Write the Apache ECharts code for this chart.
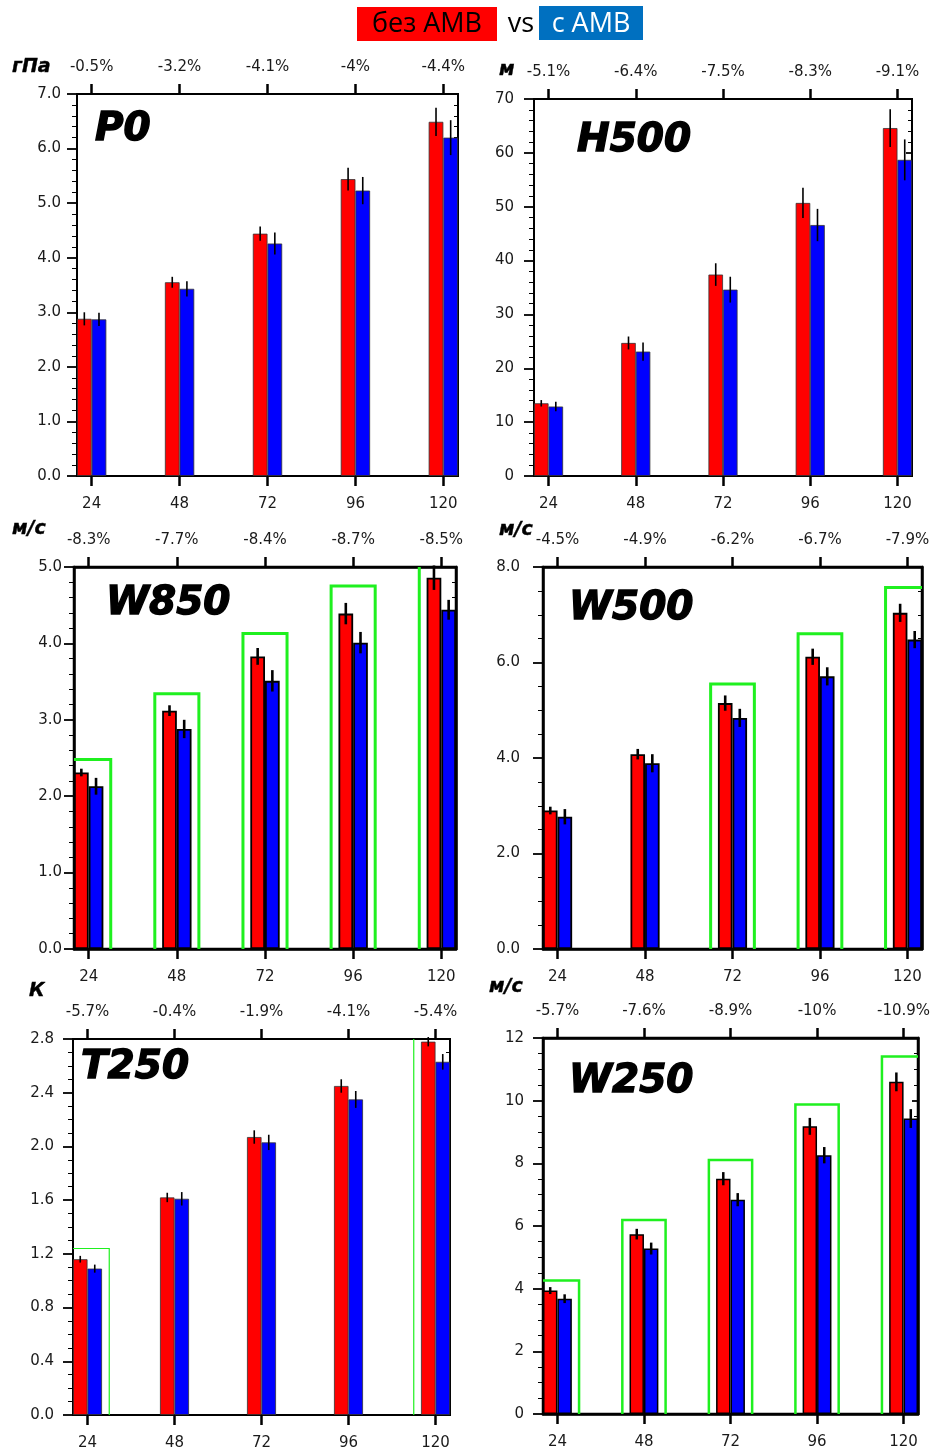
<!DOCTYPE html>
<html><head><meta charset="utf-8">
<script src="https://cdn.jsdelivr.net/npm/echarts@6/dist/echarts.min.js"></script>
<style>html,body{margin:0;padding:0;background:#fff}#c{width:936px;height:1452px}</style>
</head><body><div id="c"></div>
<script>
// ---------- DATA ----------
const categories = [24, 48, 72, 96, 120];

const p0Red = [2.88, 3.55, 4.44, 5.44, 6.49];
const p0RedErr = [0.12, 0.10, 0.13, 0.21, 0.26];
const p0Blue = [2.87, 3.43, 4.26, 5.23, 6.20];
const p0BlueErr = [0.12, 0.14, 0.20, 0.25, 0.32];
const p0Pct = ["-0.5%", "-3.2%", "-4.1%", "-4%", "-4.4%"];

const h500Red = [13.5, 24.7, 37.4, 50.7, 64.6];
const h500RedErr = [0.6, 1.2, 2.1, 2.8, 3.5];
const h500Blue = [12.9, 23.1, 34.6, 46.6, 58.7];
const h500BlueErr = [0.9, 1.7, 2.4, 3.0, 3.8];
const h500Pct = ["-5.1%", "-6.4%", "-7.5%", "-8.3%", "-9.1%"];

const w850Red = [2.31, 3.12, 3.83, 4.39, 4.86];
const w850RedErr = [0.05, 0.07, 0.11, 0.14, 0.16];
const w850Blue = [2.13, 2.88, 3.51, 4.01, 4.44];
const w850BlueErr = [0.11, 0.12, 0.14, 0.14, 0.13];
const w850Box = [2.48, 3.34, 4.13, 4.75, 5.35];
const w850Pct = ["-8.3%", "-7.7%", "-8.4%", "-8.7%", "-8.5%"];

const w500Red = [2.90, 4.08, 5.15, 6.12, 7.04];
const w500RedErr = [0.08, 0.11, 0.16, 0.17, 0.19];
const w500Blue = [2.77, 3.89, 4.84, 5.71, 6.48];
const w500BlueErr = [0.16, 0.19, 0.19, 0.19, 0.18];
const w500Box = [null, null, 5.55, 6.60, 7.57];
const w500Pct = ["-4.5%", "-4.9%", "-6.2%", "-6.7%", "-7.9%"];

const t250Red = [1.16, 1.62, 2.07, 2.45, 2.78];
const t250RedErr = [0.025, 0.035, 0.05, 0.05, 0.035];
const t250Blue = [1.09, 1.61, 2.03, 2.35, 2.63];
const t250BlueErr = [0.03, 0.05, 0.057, 0.063, 0.058];
const t250Box = [1.24, null, null, null, 2.9];
const t250Pct = ["-5.7%", "-0.4%", "-1.9%", "-4.1%", "-5.4%"];

const w250Red = [3.94, 5.74, 7.51, 9.18, 10.6];
const w250RedErr = [0.11, 0.17, 0.21, 0.27, 0.30];
const w250Blue = [3.68, 5.28, 6.84, 8.26, 9.43];
const w250BlueErr = [0.14, 0.19, 0.21, 0.26, 0.30];
const w250Box = [4.26, 6.19, 8.11, 9.88, 11.41];
const w250Pct = ["-5.7%", "-7.6%", "-8.9%", "-10%", "-10.9%"];

const panelNames = ["P0", "H500", "W850", "W500", "T250", "W250"];
const unitLabels = ["гПа", "м", "м/с", "м/с", "К", "м/с"];
const legendLabels = ["без AMB", "vs", "с AMB"];

// ---------- LAYOUT / STYLE ----------
const X_MIN = 20, X_MAX = 124, HALF_BAR = 2, HALF_BOX = 6;
const FONT = 'DejaVu Sans';

const panels = [
  {name: panelNames[0], unit: unitLabels[0], red: p0Red, redErr: p0RedErr, blue: p0Blue, blueErr: p0BlueErr, box: null, pct: p0Pct,
   grid: [77, 94, 381, 382], max: 7, interval: 1, minor: 5, dec: 1, ylm: 16,
   frameW: 2, barB: 0.8, errW: 1.6, boxW: 0, title: [95, 130], unitPos: [12, 67]},
  {name: panelNames[1], unit: unitLabels[1], red: h500Red, redErr: h500RedErr, blue: h500Blue, blueErr: h500BlueErr, box: null, pct: h500Pct,
   grid: [534, 99, 378, 377], max: 70, interval: 10, minor: 5, dec: 0, ylm: 20,
   frameW: 2, barB: 0.8, errW: 1.6, boxW: 0, title: [577, 141], unitPos: [499, 70]},
  {name: panelNames[2], unit: unitLabels[2], red: w850Red, redErr: w850RedErr, blue: w850Blue, blueErr: w850BlueErr, box: w850Box, pct: w850Pct,
   grid: [74, 567, 382, 382], max: 5, interval: 1, minor: 5, dec: 1, ylm: 12,
   frameW: 2.5, barB: 1.8, errW: 2.6, boxW: 3, title: [106, 604], unitPos: [12, 529]},
  {name: panelNames[3], unit: unitLabels[3], red: w500Red, redErr: w500RedErr, blue: w500Blue, blueErr: w500BlueErr, box: w500Box, pct: w500Pct,
   grid: [543, 567, 379, 382], max: 8, interval: 2, minor: 4, dec: 1, ylm: 23,
   frameW: 2.5, barB: 1.8, errW: 2.6, boxW: 3, title: [569, 609], unitPos: [499, 530]},
  {name: panelNames[4], unit: unitLabels[4], red: t250Red, redErr: t250RedErr, blue: t250Blue, blueErr: t250BlueErr, box: t250Box, pct: t250Pct,
   grid: [73, 1039, 377, 376], max: 2.8, interval: 0.4, minor: 4, dec: 1, ylm: 19,
   frameW: 2, barB: 0.8, errW: 1.6, boxW: 1.2, title: [81, 1068], unitPos: [29, 991]},
  {name: panelNames[5], unit: unitLabels[5], red: w250Red, redErr: w250RedErr, blue: w250Blue, blueErr: w250BlueErr, box: w250Box, pct: w250Pct,
   grid: [543, 1038, 375, 376], max: 12, interval: 2, minor: 4, dec: 0, ylm: 19,
   frameW: 2.5, barB: 1.5, errW: 2.5, boxW: 2.5, title: [569, 1082], unitPos: [489, 987]}
];

const grids = [], xAxes = [], yAxes = [], series = [], graphics = [];

panels.forEach((p, i) => {
  grids.push({left: p.grid[0], top: p.grid[1], width: p.grid[2], height: p.grid[3],
    show: true, borderColor: '#000', borderWidth: p.frameW, backgroundColor: '#fff', containLabel: false});
  const labelStyle = {color: '#1a1a1a', fontFamily: FONT, fontSize: 15};
  // bottom x axis
  xAxes.push({gridIndex: i, type: 'value', min: X_MIN, max: X_MAX, position: 'bottom',
    axisLine: {show: true, onZero: false, lineStyle: {color: '#000', width: p.frameW}},
    axisTick: {show: true, customValues: categories, length: 10, lineStyle: {color: '#000', width: 2.5}},
    axisLabel: Object.assign({customValues: categories, margin: 21}, labelStyle),
    splitLine: {show: false}});
  // top x axis (percent labels)
  xAxes.push({gridIndex: i, type: 'value', min: X_MIN, max: X_MAX, position: 'top',
    axisLine: {show: true, onZero: false, lineStyle: {color: '#000', width: p.frameW}},
    axisTick: {show: true, customValues: categories, length: 10, lineStyle: {color: '#000', width: 2.5}},
    axisLabel: Object.assign({customValues: categories, margin: 19,
      formatter: v => p.pct[categories.indexOf(Math.round(v))]}, labelStyle),
    splitLine: {show: false}});
  // left y axis
  yAxes.push({gridIndex: i, type: 'value', min: 0, max: p.max, interval: p.interval, position: 'left',
    axisLine: {show: true, onZero: false, lineStyle: {color: '#000', width: p.frameW}},
    axisTick: {show: true, length: 10, lineStyle: {color: '#000', width: 1.8}},
    minorTick: {show: true, splitNumber: p.minor, length: 5, lineStyle: {color: '#000', width: 1}},
    axisLabel: Object.assign({margin: p.ylm, formatter: v => v.toFixed(p.dec)}, labelStyle),
    splitLine: {show: false}, minorSplitLine: {show: false}});
  // right y axis
  yAxes.push({gridIndex: i, type: 'value', min: 0, max: p.max, interval: p.interval, position: 'right',
    axisLine: {show: true, onZero: false, lineStyle: {color: '#000', width: p.frameW}},
    axisTick: {show: true, inside: true, length: 6, lineStyle: {color: '#000', width: 1.8}},
    minorTick: {show: true, splitNumber: p.minor, length: 4, lineStyle: {color: '#000', width: 1}},
    axisLabel: {show: false}, splitLine: {show: false}, minorSplitLine: {show: false}});

  const xi = 2 * i, yi = 2 * i;
  // green boxes
  if (p.box) {
    series.push({type: 'custom', xAxisIndex: xi, yAxisIndex: yi, clip: true, z: 1,
      data: categories.map((c, k) => [c, p.box[k]]).filter(d => d[1] != null),
      renderItem: (params, api) => {
        const x = api.value(0), t = api.value(1);
        const pts = [api.coord([x - HALF_BOX, 0]), api.coord([x - HALF_BOX, t]),
                     api.coord([x + HALF_BOX, t]), api.coord([x + HALF_BOX, 0])];
        return {type: 'polyline', shape: {points: pts},
          style: {stroke: '#1ff01f', fill: null, lineWidth: p.boxW}};
      }});
  }
  const barStyle = (color) => ({color, borderColor: p.barB > 1 ? '#000' : '#333', borderWidth: p.barB});
  series.push({type: 'bar', name: 'red', xAxisIndex: xi, yAxisIndex: yi, z: 3,
    data: categories.map((c, k) => [c, p.red[k]]), barWidth: '16.6667%', barGap: '0%',
    itemStyle: barStyle('#ff0000'), emphasis: {disabled: true}});
  series.push({type: 'bar', name: 'blue', xAxisIndex: xi, yAxisIndex: yi, z: 3,
    data: categories.map((c, k) => [c, p.blue[k]]), barWidth: '16.6667%', barGap: '0%',
    itemStyle: barStyle('#0000ff'), emphasis: {disabled: true}});
  const errRender = (side) => (params, api) => {
    const x = api.value(0) + side * HALF_BAR, v = api.value(1), e = api.value(2);
    const a = api.coord([x, v + e]), b = api.coord([x, v - e]);
    return {type: 'line', shape: {x1: a[0], y1: a[1], x2: b[0], y2: b[1]},
      style: {stroke: '#000', lineWidth: p.errW}};
  };
  series.push({type: 'custom', xAxisIndex: xi, yAxisIndex: yi, z: 5,
    data: categories.map((c, k) => [c, p.red[k], p.redErr[k]]), renderItem: errRender(-1)});
  series.push({type: 'custom', xAxisIndex: xi, yAxisIndex: yi, z: 5,
    data: categories.map((c, k) => [c, p.blue[k], p.blueErr[k]]), renderItem: errRender(1)});

  // panel title
  graphics.push({type: 'text', z: 100, style: {x: p.title[0], y: p.title[1], text: p.name,
    font: 'italic bold 39px "DejaVu Sans"', fill: '#000', stroke: '#000', lineWidth: 1.4, verticalAlign: 'middle'}});
  // unit label
  graphics.push({type: 'text', z: 100, style: {x: p.unitPos[0], y: p.unitPos[1], text: p.unit,
    font: 'italic bold 19px "DejaVu Sans"', fill: '#000', stroke: '#000', lineWidth: 0.4, verticalAlign: 'middle'}});
});

// legend header
graphics.push({type: 'rect', shape: {x: 357, y: 7, width: 140, height: 34}, style: {fill: '#ff0000'}});
graphics.push({type: 'text', style: {x: 427, y: 24, text: legendLabels[0], font: '27px "Open Sans"', fill: '#000', align: 'center', verticalAlign: 'middle'}});
graphics.push({type: 'text', style: {x: 521, y: 24, text: legendLabels[1], font: '27px "Open Sans"', fill: '#000', align: 'center', verticalAlign: 'middle'}});
graphics.push({type: 'rect', shape: {x: 539, y: 6, width: 104, height: 34}, style: {fill: '#0070c0'}});
graphics.push({type: 'text', style: {x: 591, y: 24, text: legendLabels[2], font: '27px "Open Sans"', fill: '#fff', align: 'center', verticalAlign: 'middle'}});

const chart = echarts.init(document.getElementById('c'), null, {renderer: 'canvas'});
chart.setOption({
  animation: false,
  backgroundColor: '#fff',
  grid: grids, xAxis: xAxes, yAxis: yAxes, series: series, graphic: graphics
});
</script></body></html>
